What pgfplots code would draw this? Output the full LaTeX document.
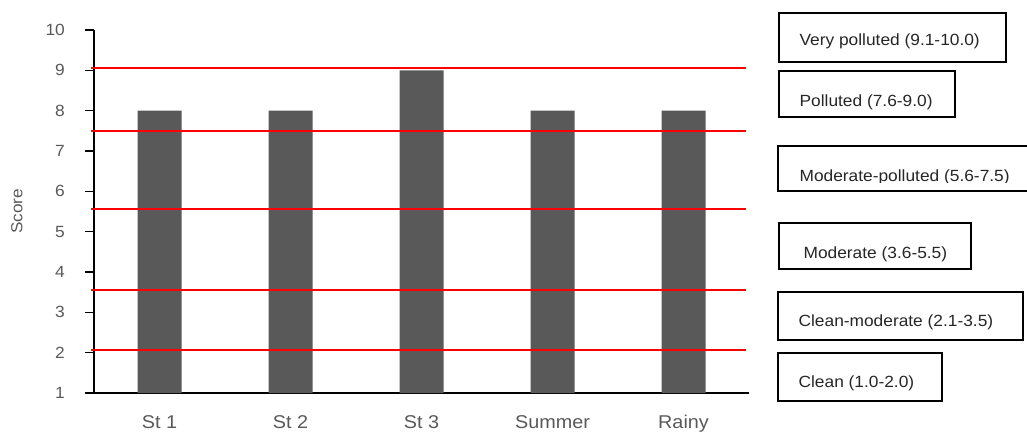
\documentclass[border=0pt]{standalone}
\usepackage{pgfplots}
\pgfplotsset{compat=1.18}
\usepackage{fontspec}
\setmainfont{Liberation Sans}[FakeStretch=1.07]
\definecolor{bargray}{HTML}{595959}
\definecolor{txtgray}{HTML}{595959}
\begin{document}
\begin{tikzpicture}[x=1pt,y=1pt]
\path[use as bounding box] (0,0) rectangle (1027,432);
\begin{axis}[
  at={(94pt,39pt)}, anchor=south west,
  scale only axis, width=655pt, height=363pt,
  xmin=-0.5, xmax=4.5, ymin=1, ymax=10,
  ytick={1,...,10},
  xtick={0,1,2,3,4},
  xticklabels={St 1,St 2,St 3,Summer,Rainy},
  axis x line=bottom, axis y line=left,
  axis line style={-, black, line width=1.2pt},
  tick align=outside, major tick length=9pt,
  y tick style={black, line width=1.2pt},
  x tick style={draw=none},
  /pgf/number format/assume math mode=true,
  yticklabel style={anchor=east, inner sep=0pt, xshift=-20pt, text=txtgray, font=\fontsize{16.2}{19}\selectfont},
  xticklabel style={anchor=base, inner sep=0pt, yshift=-26pt, text=txtgray, font=\fontsize{18.5}{21}\selectfont},
  ylabel={Score},
  ylabel style={at={(axis description cs:-0.1176,0.5)}, anchor=center, rotate=0, text=txtgray, font=\fontsize{16}{19}\selectfont},
  clip=false,
]
\addplot[ybar, bar width=44pt, fill=bargray, draw=none] coordinates {(0,8) (1,8) (2,9) (3,8) (4,8)};
\addplot[red, line width=2pt] coordinates {(-0.52,9.05) (4.48,9.05)};
\addplot[red, line width=2pt] coordinates {(-0.52,7.5) (4.48,7.5)};
\addplot[red, line width=2pt] coordinates {(-0.52,5.56) (4.48,5.56)};
\addplot[red, line width=2pt] coordinates {(-0.52,3.55) (4.48,3.55)};
\addplot[red, line width=2pt] coordinates {(-0.52,2.06) (4.48,2.06)};
\end{axis}
\begin{scope}[line width=1.2pt, every node/.style={inner sep=0pt, anchor=base west, text=black!85, font=\fontsize{16.2}{19}\selectfont}]
\draw (779,432-13) rectangle (1006,432-62);
\node at (799,432-45.7) {Very polluted (9.1-10.0)};
\draw (779,432-71) rectangle (955,432-117);
\node at (799,432-106) {Polluted (7.6-9.0)};
\draw (778,432-146) rectangle (1032,432-191);
\begin{scope}
\clip (770,432-150) rectangle (1040,432-182.5);
\node at (799,432-181) {Moderate-polluted (5.6-7.5)};
\end{scope}
\draw (779,432-223) rectangle (971,432-269);
\node at (803,432-258.3) {Moderate (3.6-5.5)};
\draw (778,432-292) rectangle (1023,432-340);
\node at (798,432-326) {Clean-moderate (2.1-3.5)};
\draw (778,432-353) rectangle (942,432-401);
\node at (798,432-387.7) {Clean (1.0-2.0)};
\end{scope}
\end{tikzpicture}
\end{document}
